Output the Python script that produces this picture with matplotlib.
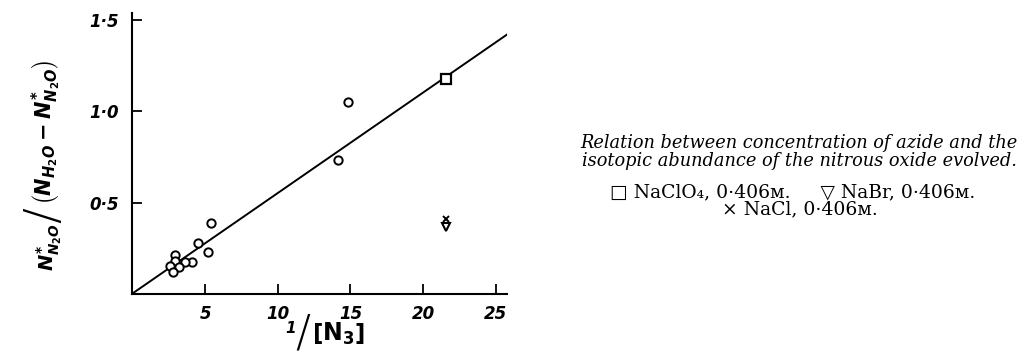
import matplotlib
matplotlib.use("Agg")
import matplotlib.pyplot as plt

# data
naN3_inv = [26.4, 14.8, 14.15, 5.4, 4.5, 5.2, 4.1, 3.62, 2.92, 2.92, 2.55, 3.17, 2.8]
ratio = [1.40, 1.05, 0.735, 0.385, 0.275, 0.227, 0.172, 0.172, 0.21, 0.177, 0.151, 0.145, 0.117]

naclo4_x = [21.58]
naclo4_y = [1.18]
nabr_x = [21.6]
nabr_y = [0.367]
nacl_x = [21.6]
nacl_y = [0.408]

fit_x = [0.0, 25.98]
fit_slope = 0.0552

xticks = [5, 10, 15, 20, 25]
xticklabels = ["5", "10", "15", "20", "25"]
yticks = [0.5, 1.0, 1.5]
yticklabels = ["0·5", "1·0", "1·5"]

plt.rcParams["mathtext.fontset"] = "custom"
plt.rcParams["mathtext.it"] = "DejaVu Sans:bold:italic"
plt.rcParams["mathtext.rm"] = "DejaVu Sans:bold"
plt.rcParams["mathtext.bf"] = "DejaVu Sans:bold"

fig = plt.figure(figsize=(10.26, 3.62), dpi=100)
ax = fig.add_axes([0.1291, 0.1892, 0.3654, 0.7743])

ax.plot(fit_x, [fit_slope * x for x in fit_x], color="black", lw=1.4)
ax.plot(naN3_inv, ratio, "o", mfc="white", mec="black", mew=1.4, ms=6)
ax.plot(naclo4_x, naclo4_y, "s", mfc="white", mec="black", mew=1.6, ms=7.5)
ax.plot(nabr_x, nabr_y, "v", mfc="white", mec="black", mew=1.5, ms=5.5)
ax.plot(nacl_x, nacl_y, "x", color="black", mew=1.4, ms=5)

ax.set_xlim(0, 25.8)
ax.set_ylim(0, 1.54)
for s in ["top", "right"]:
    ax.spines[s].set_visible(False)
for s in ["left", "bottom"]:
    ax.spines[s].set_linewidth(1.5)

ax.set_xticks(xticks)
ax.set_xticklabels(xticklabels, fontsize=12, fontweight="bold", style="italic")
ax.set_yticks(yticks)
ax.set_yticklabels(yticklabels, fontsize=12, fontweight="bold", style="italic")
ax.tick_params(axis="both", direction="in", length=7, width=1.3, pad=8)
ax.tick_params(axis="y", pad=10)

# y label, built in pieces so the slash can be large
fig.text(0.048, 0.318, r"$N^{*}_{N_2O}$", rotation=90, ha="center", va="center", fontsize=14)
fig.text(0.043, 0.405, "/", rotation=90, ha="center", va="center", fontsize=34,
         fontweight="light")
fig.text(0.045, 0.635, r"$\left(N_{H_2O}-N^{*}_{N_2O}\right)$",
         rotation=90, ha="center", va="center", fontsize=15)

# x label
fig.text(0.2835, 0.092, "1", ha="center", va="center", fontsize=11,
         fontweight="bold", style="italic")
fig.text(0.2955, 0.078, "/", ha="center", va="center", fontsize=32, fontweight="light")
fig.text(0.330, 0.078, r"$\left[\mathrm{N}_{3}\right]$", ha="center", va="center", fontsize=17)

cap = dict(family=["DejaVu Serif"], style="italic", fontsize=12.8, ha="center", va="center")
fig.text(0.779, 0.605, "Relation between concentration of azide and the", **cap)
fig.text(0.779, 0.555, "isotopic abundance of the nitrous oxide evolved.", **cap)

leg = dict(family=["DejaVu Serif", "DejaVu Sans"], fontsize=13.5, ha="center", va="center")
fig.text(0.773, 0.470, "□ NaClO₄, 0·406ᴍ.     ▽ NaBr, 0·406ᴍ.", **leg)
fig.text(0.78, 0.423, "× NaCl, 0·406ᴍ.", **leg)

fig.savefig("out.png", dpi=100, facecolor="white")
